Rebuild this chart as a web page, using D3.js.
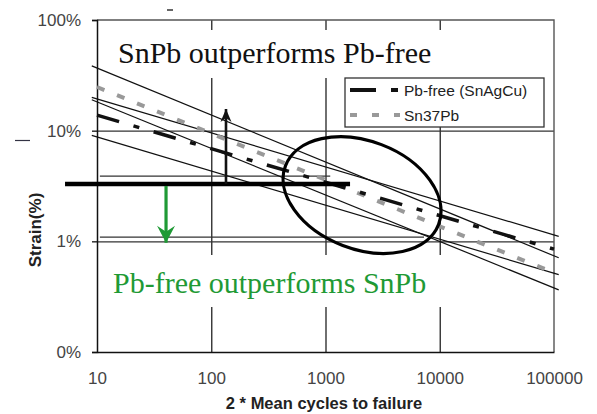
<!DOCTYPE html>
<html>
<head>
<meta charset="utf-8">
<script src="https://cdn.jsdelivr.net/npm/d3@7"></script>
<style>
  body { margin: 0; background: #fff; }
  svg { display: block; }
</style>
</head>
<body>
<svg id="chart" width="597" height="414"></svg>
<script>
// ====
// DATA
// ====

// axis ticks
const xTicks = [10, 100, 1000, 10000, 100000];
const xLabels = ["10", "100", "1000", "10000", "100000"];
const yTicks = [0.1, 1, 10, 100];
const yLabels = ["0%", "1%", "10%", "100%"];

// fitted lines: cycles at both ends, strain (%) at both ends
const meanN = [10, 100000];
const pbFree = [13.8, 0.85];
const sn37Pb = [24.8, 0.52];

// bound lines
const boundN = [9, 110000];
const snUpper = [38.5, 0.71];
const snLower = [19.0, 0.364];
const pbUpper = [20.0, 1.11];
const pbLower = [9.06, 0.50];

// thin reference lines (strain level, start/end cycles)
const refStrain = [3.89, 1.09];
const refN = [[10.6, 1100], [10.6, 7280]];

// thick crossover bar
const barStrain = 3.3;
const barN = [5.25, 1640];

// arrows
const upArrowN = 134.6;
const upArrowStrain = [3.3, 15.7];
const downArrowN = 40.2;
const downArrowStrain = [3.3, 0.97];

// ellipse centre
const ellipseN = 2090;
const ellipseStrain = 2.62;

// ======
// SCALES
// ======

const svg = d3.select("#chart");
const plotL = 97, plotR = 554, plotT = 20, plotB = 352;

const x = d3.scaleLog().domain([10, 100000]).range([plotL, plotR]);
const y = d3.scaleLog().domain([0.1, 100]).range([plotB, plotT]);

const sans = "'Liberation Sans', Arial, sans-serif";
const serif = "'Liberation Serif', 'Times New Roman', serif";
const green = "#1f9a35";

// =====
// GRIDS
// =====

svg.append("g")
  .attr("transform", `translate(0,${plotT})`)
  .call(d3.axisBottom(x).tickValues(xTicks.slice(1, -1)).tickSize(plotB - plotT).tickFormat(""))
  .call(g => g.select(".domain").remove())
  .selectAll("line").attr("stroke", "#333").attr("stroke-width", 1.4);

svg.append("g")
  .attr("transform", `translate(${plotL},0)`)
  .call(d3.axisRight(y).tickValues(yTicks.slice(1, -1)).tickSize(plotR - plotL).tickFormat(""))
  .call(g => g.select(".domain").remove())
  .selectAll("line").attr("stroke", "#333").attr("stroke-width", 1.4);

// plot frame (top / right)
svg.append("path")
  .attr("d", `M${plotL},${plotT}H${plotR}V${plotB}`)
  .attr("fill", "none")
  .attr("stroke", "#555")
  .attr("stroke-width", 1.4);

// thin reference lines
svg.selectAll(".ref")
  .data(refStrain)
  .enter()
  .append("line")
  .attr("class", "ref")
  .attr("x1", (d, i) => x(refN[i][0]))
  .attr("x2", (d, i) => x(refN[i][1]))
  .attr("y1", d => y(d))
  .attr("y2", d => y(d))
  .attr("stroke", "#333")
  .attr("stroke-width", 1.3);

// white boxes behind the two statements
svg.append("rect").attr("x", 108).attr("y", 30).attr("width", 342).attr("height", 48).attr("fill", "#fff");
svg.append("rect").attr("x", 108).attr("y", 255).attr("width", 336).attr("height", 52).attr("fill", "#fff");

// ====
// AXES
// ====

const yAxis = svg.append("g")
  .attr("transform", `translate(${plotL},0)`)
  .call(d3.axisLeft(y).tickValues(yTicks).tickFormat((d, i) => yLabels[i]).tickSize(5).tickPadding(11));
yAxis.select(".domain").attr("stroke", "#111").attr("stroke-width", 1.5);
yAxis.selectAll("line").attr("stroke", "#111").attr("stroke-width", 1.3);
yAxis.selectAll("text").attr("font-family", sans).attr("font-size", 17).attr("fill", "#444");

const xAxis = svg.append("g")
  .attr("transform", `translate(0,${plotB})`)
  .call(d3.axisBottom(x).tickValues(xTicks).tickFormat((d, i) => xLabels[i]).tickSize(0).tickPadding(20));
xAxis.select(".domain").attr("stroke", "#111").attr("stroke-width", 1.5);
xAxis.selectAll("text").attr("font-family", sans).attr("font-size", 17).attr("fill", "#444");

svg.append("text")
  .attr("transform", "translate(41,230) rotate(-90)")
  .attr("text-anchor", "middle")
  .attr("font-family", sans)
  .attr("font-weight", "bold")
  .attr("font-size", 17)
  .attr("fill", "#222")
  .text("Strain(%)");

svg.append("text")
  .attr("x", 324)
  .attr("y", 409)
  .attr("text-anchor", "middle")
  .attr("font-family", sans)
  .attr("font-weight", "bold")
  .attr("font-size", 16.5)
  .attr("fill", "#222")
  .text("2 * Mean cycles to failure");

// =====
// LINES
// =====

const bounds = [snUpper, snLower, pbUpper, pbLower];
svg.selectAll(".bound")
  .data(bounds)
  .enter()
  .append("line")
  .attr("class", "bound")
  .attr("x1", x(boundN[0]))
  .attr("x2", x(boundN[1]))
  .attr("y1", d => y(d[0]))
  .attr("y2", d => y(d[1]))
  .attr("stroke", "#111")
  .attr("stroke-width", 1.2);

svg.append("line")
  .attr("x1", x(meanN[0])).attr("x2", x(meanN[1]))
  .attr("y1", y(sn37Pb[0])).attr("y2", y(sn37Pb[1]))
  .attr("stroke", "#999")
  .attr("stroke-width", 4)
  .attr("stroke-dasharray", "8,13.6");

svg.append("line")
  .attr("x1", x(meanN[0])).attr("x2", x(meanN[1]))
  .attr("y1", y(pbFree[0])).attr("y2", y(pbFree[1]))
  .attr("stroke", "#111")
  .attr("stroke-width", 3.5)
  .attr("stroke-dasharray", "23,15,6,15");

// ===========
// ANNOTATIONS
// ===========

const defs = svg.append("defs");
defs.append("marker")
  .attr("id", "head-black")
  .attr("markerUnits", "userSpaceOnUse")
  .attr("viewBox", "-14 -7 15 14")
  .attr("refX", 0).attr("refY", 0)
  .attr("markerWidth", 15).attr("markerHeight", 14)
  .attr("orient", "auto")
  .append("path")
  .attr("d", "M0,0L-13,-5.5L-9,0L-13,5.5Z")
  .attr("fill", "#111");

defs.append("marker")
  .attr("id", "head-green")
  .attr("markerUnits", "userSpaceOnUse")
  .attr("viewBox", "-18 -10 19 20")
  .attr("refX", 0).attr("refY", 0)
  .attr("markerWidth", 19).attr("markerHeight", 20)
  .attr("orient", "auto")
  .append("path")
  .attr("d", "M0,0L-17,-9L-11,0L-17,9Z")
  .attr("fill", green);

// thick bar
svg.append("line")
  .attr("x1", x(barN[0])).attr("x2", x(barN[1]))
  .attr("y1", y(barStrain)).attr("y2", y(barStrain))
  .attr("stroke", "#000")
  .attr("stroke-width", 4.5);

svg.append("line")
  .attr("x1", x(upArrowN)).attr("x2", x(upArrowN))
  .attr("y1", y(upArrowStrain[0])).attr("y2", y(upArrowStrain[1]))
  .attr("stroke", "#111")
  .attr("stroke-width", 2.6)
  .attr("marker-end", "url(#head-black)");

svg.append("line")
  .attr("x1", x(downArrowN)).attr("x2", x(downArrowN))
  .attr("y1", y(downArrowStrain[0]) + 2).attr("y2", y(downArrowStrain[1]))
  .attr("stroke", green)
  .attr("stroke-width", 3.2)
  .attr("marker-end", "url(#head-green)");

svg.append("ellipse")
  .attr("transform", `translate(${x(ellipseN)},${y(ellipseStrain)}) rotate(21)`)
  .attr("rx", 82)
  .attr("ry", 54)
  .attr("fill", "none")
  .attr("stroke", "#000")
  .attr("stroke-width", 3.2);

svg.append("text")
  .attr("x", 118).attr("y", 63)
  .attr("font-family", serif)
  .attr("font-size", 30)
  .attr("fill", "#111")
  .text("SnPb outperforms Pb-free");

svg.append("text")
  .attr("x", 113).attr("y", 293)
  .attr("font-family", serif)
  .attr("font-size", 30)
  .attr("fill", green)
  .text("Pb-free outperforms SnPb");

// stray marks from the source scan
svg.append("line").attr("x1", 15).attr("x2", 30).attr("y1", 140.5).attr("y2", 140.5).attr("stroke", "#334").attr("stroke-width", 1.2);
svg.append("line").attr("x1", 167).attr("x2", 173).attr("y1", 10).attr("y2", 10).attr("stroke", "#333").attr("stroke-width", 1.5);

// ======
// LEGEND
// ======

const legend = svg.append("g");
legend.append("rect")
  .attr("x", 345).attr("y", 78).attr("width", 199).attr("height", 49)
  .attr("fill", "#fff").attr("stroke", "#333").attr("stroke-width", 1.3);

const legendNames = ["Pb-free (SnAgCu)", "Sn37Pb"];
const legendColors = ["#111", "#999"];
const legendDash = ["26,15,7,15", "7,15"];

legendNames.forEach(function (name, i) {
  const ly = 90 + i * 25;
  legend.append("line")
    .attr("x1", 350).attr("x2", 400)
    .attr("y1", ly).attr("y2", ly)
    .attr("stroke", legendColors[i])
    .attr("stroke-width", 4)
    .attr("stroke-dasharray", legendDash[i]);
  legend.append("text")
    .attr("x", 404).attr("y", ly + 5.5)
    .attr("font-family", sans)
    .attr("font-size", 15.5)
    .attr("fill", "#222")
    .text(name);
});
</script>
</body>
</html>
